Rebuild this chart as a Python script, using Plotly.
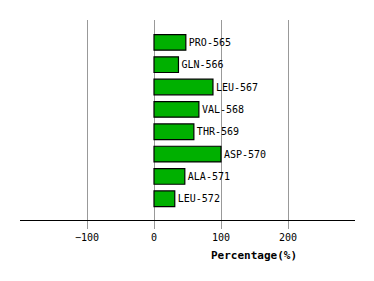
import plotly.graph_objects as go

residues = ["PRO-565", "GLN-566", "LEU-567", "VAL-568", "THR-569", "ASP-570", "ALA-571", "LEU-572"]
percentages = [47.5, 36.5, 88, 67, 59.5, 100, 46, 31]
tick_values = [-100, 0, 100, 200]
tick_labels = ["\u2212100", "0", "100", "200"]

positions = list(range(len(residues)))

fig = go.Figure()
fig.add_trace(go.Bar(
    x=percentages,
    y=positions,
    orientation="h",
    width=0.7,
    marker=dict(color="#00b000", line=dict(color="black", width=1.2)),
    text=residues,
    textposition="outside",
    textfont=dict(family="DejaVu Sans Mono", size=10, color="black"),
    cliponaxis=False,
    hoverinfo="skip",
))

fig.update_layout(
    width=374, height=281,
    margin=dict(l=20, r=19, t=20, b=61),
    paper_bgcolor="white", plot_bgcolor="white",
    showlegend=False,
    xaxis=dict(
        range=[-200, 300],
        tickvals=tick_values, ticktext=tick_labels,
        showgrid=True, gridcolor="#999999", gridwidth=1,
        zeroline=False,
        showline=True, linecolor="black", linewidth=1,
        ticks="outside", ticklen=8, tickcolor="#999999",
        tickfont=dict(family="DejaVu Sans Mono", size=10, color="black"),
        fixedrange=True,
    ),
    yaxis=dict(
        range=[7.95, -1.0],
        showgrid=False, zeroline=False, showline=False,
        showticklabels=False, ticks="",
        fixedrange=True,
    ),
    annotations=[dict(
        text="<b>Percentage(%)</b>",
        xref="paper", yref="paper",
        x=(254 - 20) / 335, y=(281 - 255 - 61) / 200,
        xanchor="center", yanchor="middle",
        showarrow=False,
        font=dict(family="DejaVu Sans Mono", size=11, color="black"),
    )],
)

fig.write_html("out.html")
